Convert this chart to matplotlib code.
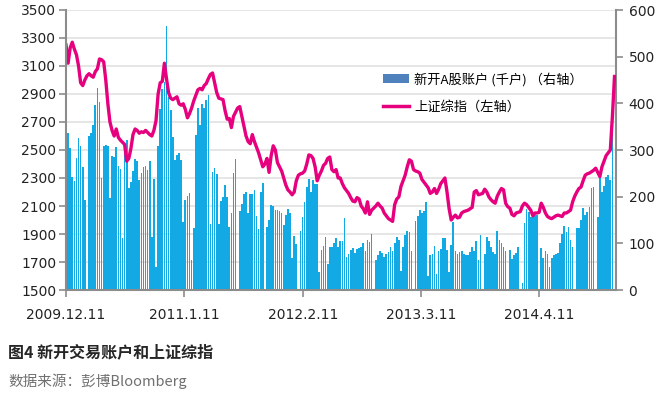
import matplotlib
matplotlib.use('Agg')
import matplotlib.pyplot as plt
import matplotlib.transforms as mtransforms
from matplotlib.patches import Patch
from matplotlib.lines import Line2D
import pandas as pd

# weekly data starting 2009-12-11
start = '2009-12-11'

# 上证综指 (left axis), weekly
sh_index = [
    3250, 3120, 3230, 3270, 3220, 3180, 3100, 2980, 2960, 3000,
    3030, 3045, 3030, 3020, 3060, 3080, 3150, 3145, 3130, 3000,
    2830, 2700, 2640, 2600, 2650, 2590, 2570, 2555, 2540, 2420,
    2440, 2510, 2610, 2650, 2640, 2620, 2630, 2625, 2640, 2625,
    2610, 2600, 2640, 2710, 2900, 2980, 2990, 3120, 3010, 2910,
    2870, 2860, 2870, 2880, 2830, 2820, 2830, 2790, 2730, 2760,
    2800, 2850, 2890, 2930, 2940, 2930, 2960, 2975, 3010, 3040,
    3050, 2980, 2910, 2870, 2865, 2860, 2780, 2720, 2725, 2660,
    2740, 2770, 2800, 2810, 2740, 2670, 2600, 2560, 2545, 2610,
    2560, 2520, 2480, 2430, 2380, 2400, 2440, 2340, 2460, 2530,
    2500, 2410, 2380, 2350, 2300, 2250, 2215, 2200, 2180, 2200,
    2280, 2320, 2330, 2335, 2350, 2400, 2465, 2460, 2440, 2380,
    2280, 2320, 2350, 2390, 2405, 2440, 2450, 2360, 2345, 2360,
    2300, 2300, 2260, 2230, 2210, 2190, 2160, 2135, 2130, 2160,
    2150, 2100, 2080, 2050, 2130, 2040, 2070, 2085, 2100, 2120,
    2100, 2085, 2050, 2030, 2010, 2000, 1990, 2110, 2150, 2165,
    2240, 2280, 2320, 2380, 2430, 2420, 2360, 2350, 2345, 2335,
    2290, 2270, 2250, 2230, 2190, 2200, 2225, 2190, 2220, 2260,
    2280, 2300, 2200, 2080, 2000, 2020, 2035, 2015, 2020, 2050,
    2060, 2065, 2070, 2080, 2090, 2200, 2210, 2180, 2185, 2190,
    2220, 2200, 2165, 2145, 2130, 2120, 2170, 2200, 2225, 2215,
    2120, 2095, 2085, 2040, 2030, 2050, 2055, 2060, 2100, 2120,
    2110, 2090, 2070, 2030, 2050, 2050, 2055, 2120, 2090, 2050,
    2025, 2015, 2010, 2020, 2030, 2035, 2030, 2025, 2050, 2050,
    2060, 2070, 2130, 2170, 2200, 2225, 2235, 2280, 2320, 2330,
    2335, 2345, 2355, 2370, 2340, 2310, 2380, 2420, 2460, 2480,
    2500, 2740, 3025,
]

# 新开A股账户 (千户, right axis), weekly; 0 = no data that week
new_accounts = [
    330, 337, 305, 243, 233, 283, 325, 309, 263, 193,
    0, 331, 336, 353, 396, 432, 402, 241, 309, 311,
    309, 198, 288, 284, 306, 265, 260, 112, 293, 321,
    218, 231, 254, 281, 276, 235, 251, 264, 266, 258,
    276, 114, 238, 50, 308, 388, 430, 446, 565, 414,
    386, 328, 278, 289, 294, 278, 146, 193, 201, 208,
    64, 132, 333, 389, 353, 398, 391, 408, 418, 141,
    253, 262, 248, 141, 191, 200, 226, 200, 134, 164,
    250, 280, 0, 169, 184, 205, 211, 164, 206, 205,
    214, 159, 131, 209, 229, 0, 136, 151, 183, 180,
    172, 171, 169, 165, 140, 161, 173, 164, 68, 115,
    99, 0, 126, 157, 188, 220, 237, 210, 236, 227,
    228, 39, 86, 94, 113, 56, 93, 93, 101, 111,
    93, 106, 104, 154, 71, 77, 86, 89, 80, 87,
    89, 93, 100, 84, 107, 102, 119, 0, 64, 75,
    84, 80, 71, 77, 82, 93, 84, 100, 113, 107,
    41, 93, 118, 126, 124, 84, 0, 148, 158, 171,
    164, 170, 188, 30, 75, 77, 95, 34, 84, 87,
    111, 111, 86, 38, 96, 146, 84, 77, 82, 84,
    77, 74, 76, 81, 93, 84, 104, 64, 118, 0,
    77, 113, 104, 93, 81, 77, 127, 107, 101, 93,
    84, 0, 86, 66, 74, 79, 93, 0, 16, 144,
    173, 168, 157, 157, 161, 160, 0, 89, 68, 84,
    77, 50, 68, 74, 77, 79, 100, 121, 137, 124,
    134, 107, 93, 0, 132, 132, 151, 175, 160, 167,
    177, 219, 221, 0, 157, 241, 211, 223, 243, 246,
    236, 336,
]

tick_dates = ['2009-12-11', '2011-01-11', '2012-02-11', '2013-03-11', '2014-04-11']
tick_labels = ['2009.12.11', '2011.1.11', '2012.2.11', '2013.3.11', '2014.4.11']
left_ticks = list(range(1500, 3501, 200))
right_ticks = list(range(0, 601, 100))

legend_labels = ['新开A股账户 (千户) （右轴）', '上证综指（左轴）']
title = '图4 新开交易账户和上证综指'
source = '数据来源：彭博Bloomberg'

cjk = ['Noto Sans CJK SC', 'DejaVu Sans']
bar_color = '#12A9E4'
line_color = '#E6007E'
axis_gray = '#8C8C8C'

line_dates = pd.date_range(start, periods=len(sh_index), freq='7D')
bar_dates = pd.date_range(start, periods=len(new_accounts), freq='7D')

fig = plt.figure(figsize=(6.7, 3.95), dpi=100)
ax = fig.add_axes([66/670, 1 - 290/395, 550/670, 280/395])
ax2 = ax.twinx()
ax.set_zorder(2)
ax2.set_zorder(1)
ax.patch.set_visible(False)

# gridlines at left-axis ticks, drawn behind the bars
grid_tr = mtransforms.blended_transform_factory(ax2.transAxes, ax.transData)
ax2.hlines(left_ticks, 0, 1, transform=grid_tr, color='#E4E4E4', lw=1.3, zorder=0)

ax2.bar(bar_dates, new_accounts, width=5.6, color=bar_color, linewidth=0, zorder=2)
ax.plot(line_dates, sh_index, color=line_color, lw=2.4, solid_joinstyle='round')

ax.set_xlim(pd.Timestamp('2009-12-11'), pd.Timestamp('2014-12-24'))
ax.set_ylim(1500, 3500)
ax2.set_ylim(0, 600)
ax.set_yticks(left_ticks)
ax2.set_yticks(right_ticks)
ax.set_xticks(pd.to_datetime(tick_dates))
ax.set_xticklabels(tick_labels)

for s in ['top', 'right']:
    ax.spines[s].set_visible(False)
for s in ['top', 'left', 'bottom']:
    ax2.spines[s].set_visible(False)
for sp in [ax.spines['left'], ax.spines['bottom'], ax2.spines['right']]:
    sp.set_color(axis_gray)
    sp.set_linewidth(1.5)

ax.tick_params(axis='y', direction='out', length=5, width=1.2, color=axis_gray,
               labelsize=10, labelcolor='#222222', pad=2)
ax.tick_params(axis='x', direction='out', length=5, width=1.2, color=axis_gray,
               labelsize=10, labelcolor='#222222', pad=8)
ax2.tick_params(axis='y', direction='out', length=5, width=1.2, color=axis_gray,
                labelsize=10, labelcolor='#222222', pad=4)

handles = [Patch(facecolor='#4F81BD', edgecolor='none'),
           Line2D([], [], color=line_color, lw=2.5)]
ax.legend(handles, legend_labels, loc='upper left',
          bbox_to_anchor=(376/670, 1 - 66/395), bbox_transform=fig.transFigure,
          frameon=False, prop={'family': cjk, 'size': 9.5},
          handlelength=2.0, handletextpad=0.4, labelspacing=1.1, borderpad=0)

fig.text(8/670, 1 - 352/395, title, fontsize=11.5, fontweight='bold',
         color='#262626', va='center', family=cjk)
fig.text(8/670, 1 - 381/395, source, fontsize=10.5, color='#707070',
         va='center', family=cjk)

fig.savefig('out.png', dpi=100)
